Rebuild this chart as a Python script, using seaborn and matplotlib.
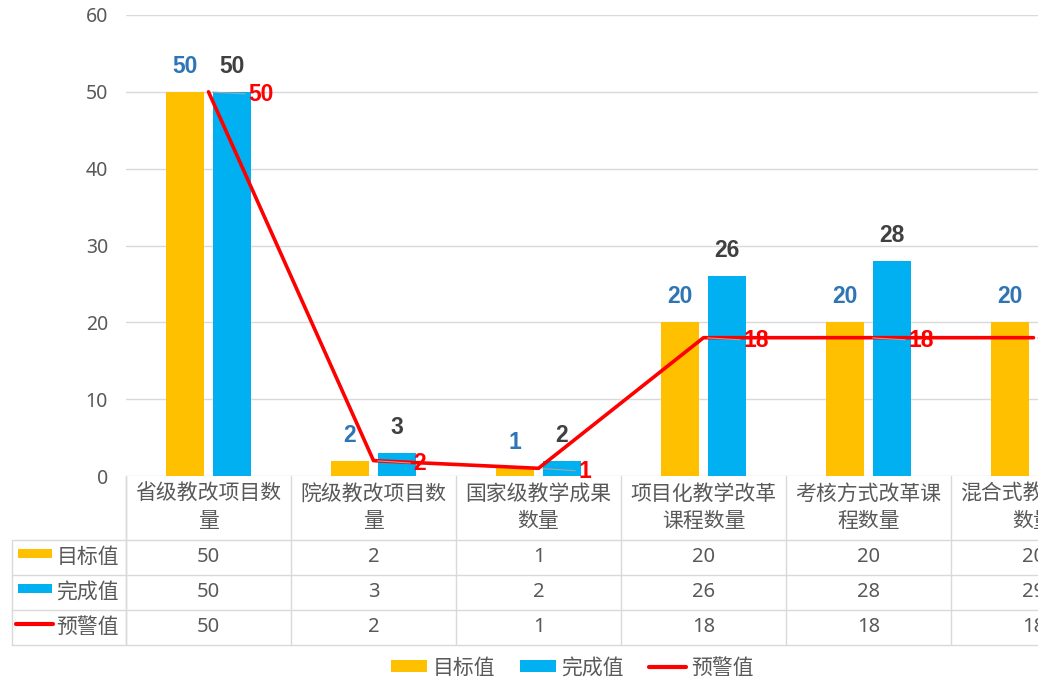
import numpy as np
import pandas as pd
import matplotlib
matplotlib.use('Agg')
import matplotlib.pyplot as plt
import seaborn as sns
from matplotlib.patches import Rectangle, Patch
from matplotlib.lines import Line2D
from matplotlib.transforms import blended_transform_factory

# 数据
categories = ['省级教改项目数量', '院级教改项目数量', '国家级教学成果数量',
              '项目化教学改革课程数量', '考核方式改革课程数量', '混合式教学课程数量']
header_labels = ['省级教改项目数\n量', '院级教改项目数\n量', '国家级教学成果\n数量',
                 '项目化教学改革\n课程数量', '考核方式改革课\n程数量', '混合式教学课程\n数量']
series_names = ['目标值', '完成值', '预警值']
target = [50, 2, 1, 20, 20, 20]
done = [50, 3, 2, 26, 28, 29]
warn = [50, 2, 1, 18, 18, 18]

YELLOW = '#FFC000'
BLUE = '#00B0F0'
RED = '#FF0000'
GRID = '#D9D9D9'
TEXT = '#595959'

df = pd.DataFrame({
    '类别': categories * 2,
    '系列': [series_names[0]] * len(target) + [series_names[1]] * len(done),
    '数值': target + done,
})

sns.set_theme(style='white')
plt.rcParams['font.family'] = ['Noto Sans', 'Noto Sans CJK SC', 'DejaVu Sans']

W, H = 1038, 684
fig = plt.figure(figsize=(W / 100, H / 100), dpi=100)


def fx(px):
    return px / W


def fy(py):
    return 1 - py / H


# el área del gráfico sigue fuera de la figura (recortada a la derecha)
ax = fig.add_axes([fx(126), fy(476), 990 / W, (476 - 15) / H])

sns.barplot(data=df, x='类别', y='数值', hue='系列', palette=[YELLOW, BLUE], saturation=1,
            width=0.57, gap=0.21, linewidth=0, legend=False, ax=ax)
sns.lineplot(x=np.arange(len(warn)), y=warn, color=RED, linewidth=2.6, ax=ax, legend=False)

# etiquetas de datos
lbl = dict(fontsize=16.5, fontweight='bold', family='Liberation Sans')
ax.bar_label(ax.containers[0], padding=10, color='#2E75B6', **lbl)
ax.bar_label(ax.containers[1], padding=10, color='#404040', **lbl)
for i, v in enumerate(warn):
    ax.annotate(str(v), xy=(i, v), xytext=(40, -3), textcoords='offset pixels',
                ha='left', va='center', color=RED, **lbl,
                arrowprops=dict(arrowstyle='-', color='#A6A6A6', lw=0.8, shrinkA=0, shrinkB=3))

ax.set_xlim(-0.5, len(categories) - 0.5)
ax.set_ylim(0, 60)
ax.set_yticks(range(0, 61, 10))
ax.set_xticks([])
ax.set_xlabel('')
ax.set_ylabel('')
ax.grid(axis='y', color=GRID, linewidth=1)
ax.set_axisbelow(True)
for s in ax.spines.values():
    s.set_visible(False)
ax.tick_params(axis='y', length=0, pad=13, labelsize=14, labelcolor=TEXT)

# tabla de datos
trans = blended_transform_factory(ax.transData, fig.transFigure)
for k in range(len(categories) + 1):
    ax.plot([k - 0.5, k - 0.5], [fy(476), fy(645)], transform=trans, clip_on=False,
            color=GRID, linewidth=1)
for py in [540, 575, 610, 645]:
    fig.add_artist(Line2D([fx(12), 1.0], [fy(py), fy(py)], color=GRID, linewidth=1))
fig.add_artist(Line2D([fx(12), fx(12)], [fy(540), fy(645)], color=GRID, linewidth=1))
fig.add_artist(Line2D([fx(126), fx(126)], [fy(476), fy(645)], color=GRID, linewidth=1))

for i, lab in enumerate(header_labels):
    ax.text(i, fy(508), lab, transform=trans, ha='center', va='center',
            fontsize=15, color=TEXT, linespacing=1.4, clip_on=False)

rows = [target, done, warn]
row_y = [557, 592, 627]
for name, vals, py in zip(series_names, rows, row_y):
    for i, v in enumerate(vals):
        ax.text(i, fy(py), str(v), transform=trans, ha='center', va='center',
                fontsize=14.5, color=TEXT, clip_on=False)
    fig.text(fx(119), fy(py), name, ha='right', va='center', fontsize=15, color=TEXT)

fig.add_artist(Rectangle((fx(18), fy(553 + 5)), 34 / W, 9 / H, color=YELLOW, lw=0))
fig.add_artist(Rectangle((fx(18), fy(588 + 5)), 34 / W, 9 / H, color=BLUE, lw=0))
fig.add_artist(Line2D([fx(16), fx(53)], [fy(624), fy(624)], color=RED, linewidth=3))

# leyenda
handles = [Patch(color=YELLOW, lw=0), Patch(color=BLUE, lw=0), Line2D([], [], color=RED, linewidth=3)]
fig.legend(handles, series_names, loc='center', bbox_to_anchor=(fx(572), fy(668)), ncol=3,
           frameon=False, fontsize=15, handlelength=1.75, handleheight=0.5,
           columnspacing=1.2, handletextpad=0.25, labelcolor=TEXT)

fig.savefig('out.png', dpi=100)
